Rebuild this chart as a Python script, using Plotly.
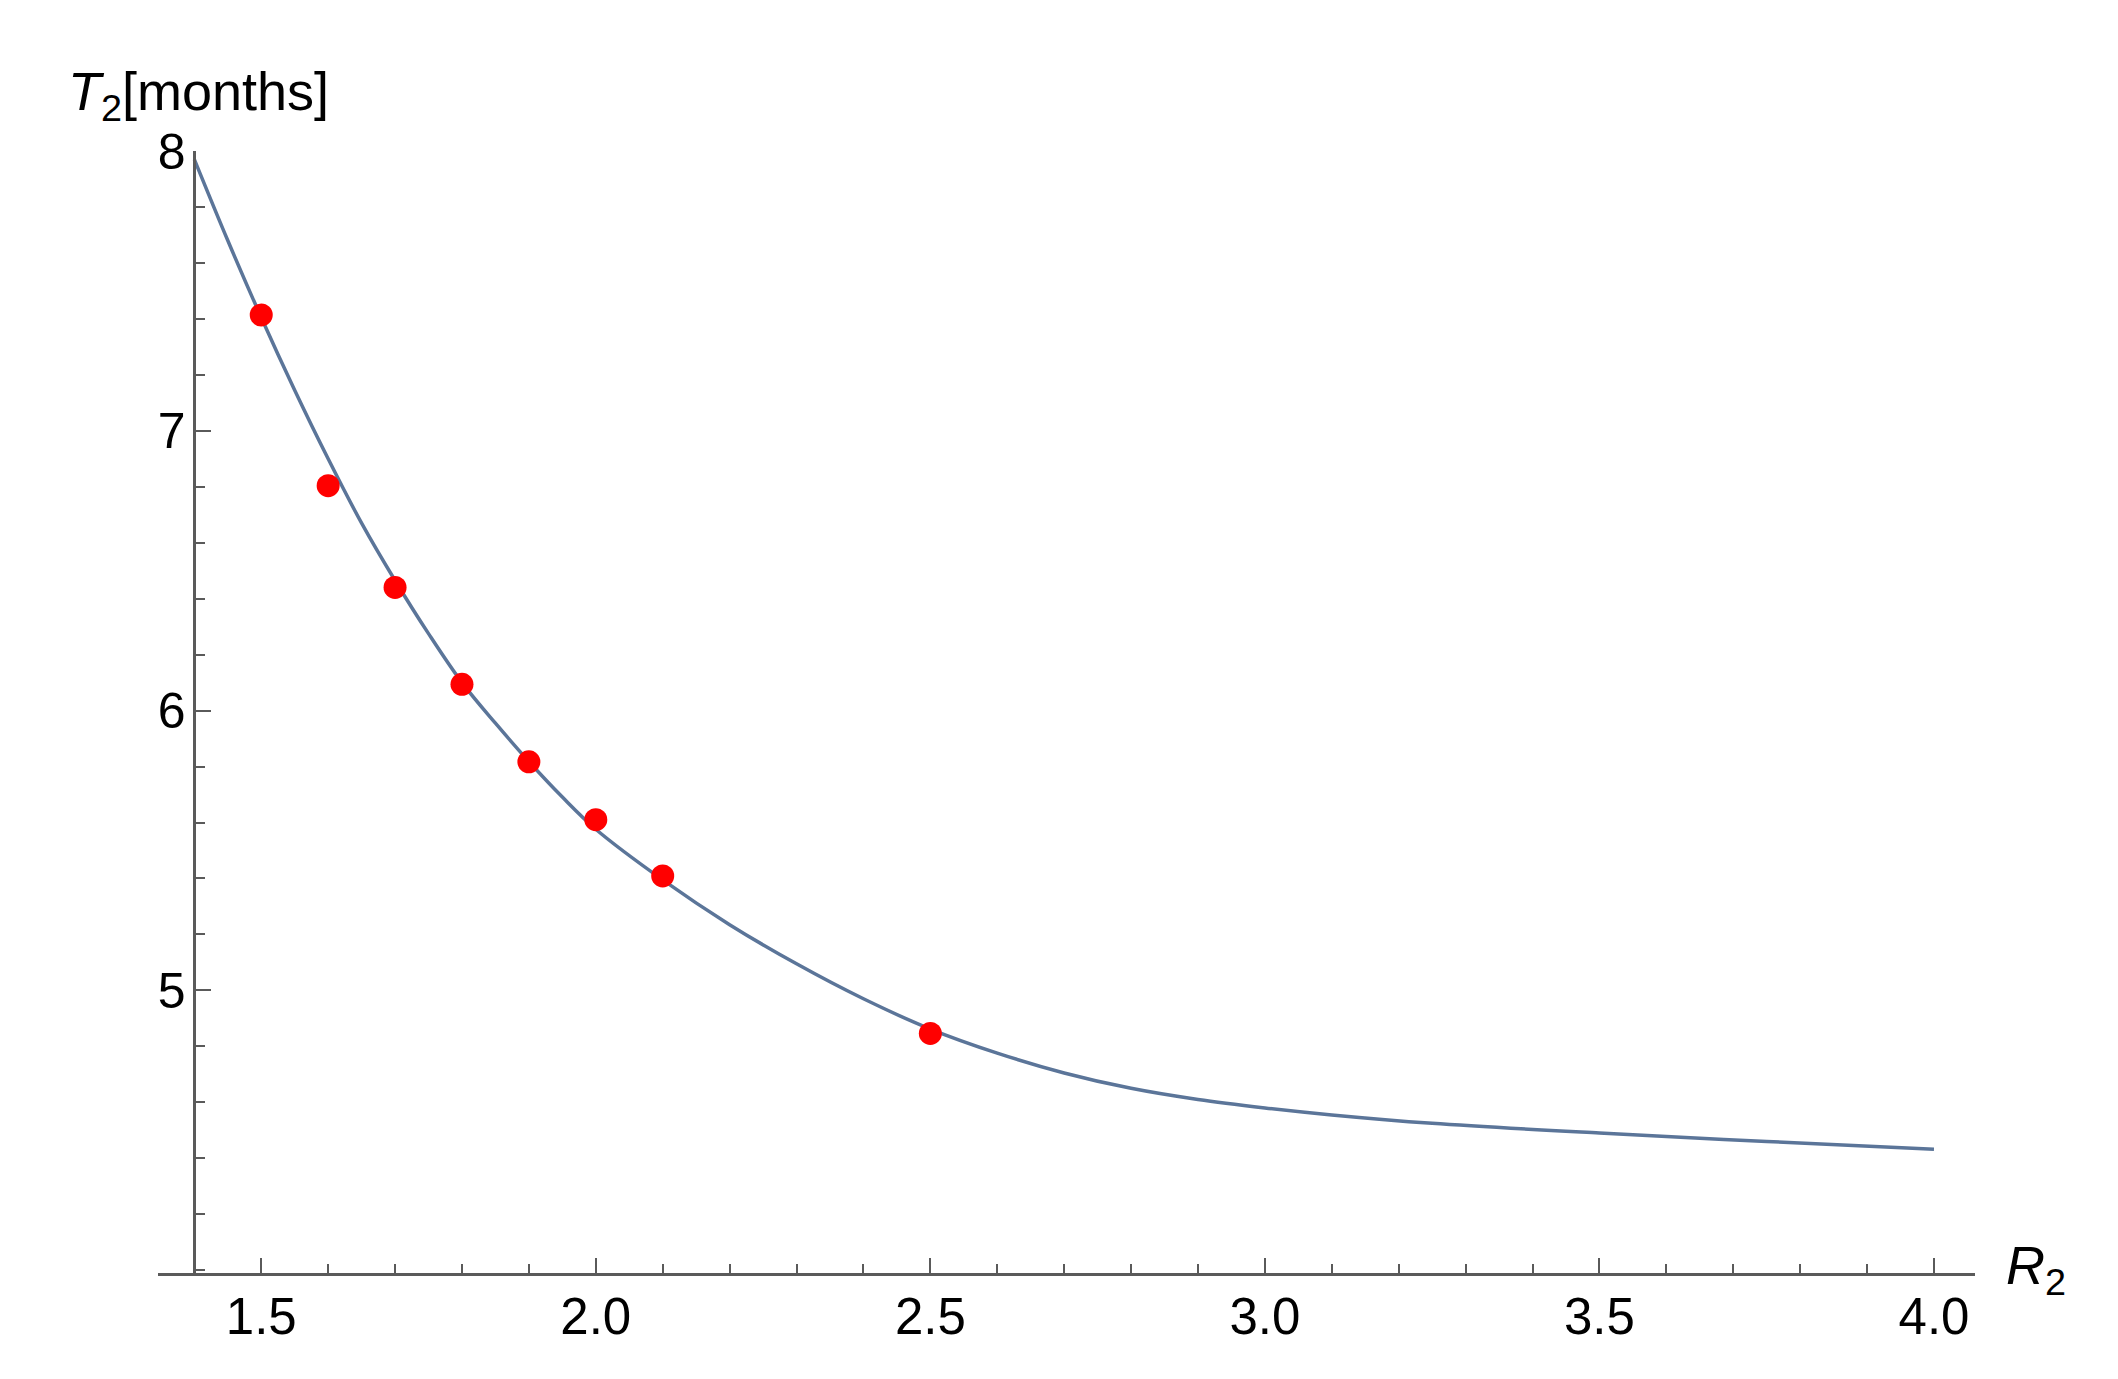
import plotly.graph_objects as go

# fitted curve T2(R2)
curve_r = [1.40, 1.45, 1.50, 1.55, 1.60, 1.65, 1.70, 1.75, 1.80, 1.85, 1.90, 1.95, 2.00,
           2.10, 2.20, 2.30, 2.40, 2.50, 2.60, 2.70, 2.80, 2.90, 3.00, 3.10, 3.25, 3.50,
           3.75, 4.00]
curve_t = [7.97, 7.68, 7.405, 7.145, 6.90, 6.67, 6.465, 6.275, 6.10, 5.955, 5.818, 5.691, 5.576,
           5.395, 5.235, 5.095, 4.970, 4.862, 4.776, 4.705, 4.650, 4.610, 4.580, 4.555, 4.525,
           4.490, 4.460, 4.432]

# measured points (red dots)
dots_r = [1.5, 1.6, 1.7, 1.8, 1.9, 2.0, 2.1, 2.5]
dots_t = [7.414, 6.804, 6.44, 6.094, 5.817, 5.61, 5.409, 4.846]

y_ticks = [5, 6, 7, 8]

axis_col = "#5a5a5a"
font_fam = "Arial, Liberation Sans, sans-serif"

x_lo, x_hi = 1.3457, 4.0613

line = go.Scatter(
    x=curve_r, y=curve_t,
    mode="lines",
    line=dict(color="#5b7599", width=3.5, shape="spline"),
    showlegend=False,
)
points = go.Scatter(
    x=dots_r, y=dots_t,
    mode="markers",
    marker=dict(color="#ff0000", size=23),
    showlegend=False,
)

# page body adds 8px on the left/top, so the figure is 8px smaller
layout = go.Layout(
    width=2110, height=1371,
    autosize=False,
    margin=dict(l=150, r=143, t=143, b=106),
    paper_bgcolor="white",
    plot_bgcolor="white",
    font=dict(family=font_fam, color="black"),
    xaxis=dict(
        range=[x_lo, x_hi],
        showgrid=False, zeroline=False,
        showline=True, linecolor=axis_col, linewidth=2.5,
        ticks="inside", ticklen=15, tickwidth=2, tickcolor=axis_col,
        tick0=1.5, dtick=0.5, tickformat=".1f",
        tickfont=dict(size=51, family=font_fam, color="black"),
        ticklabelstandoff=-3,
        minor=dict(tick0=1.4, dtick=0.1, ticks="inside", ticklen=9,
                   tickwidth=2, tickcolor=axis_col, showgrid=False),
    ),
    yaxis=dict(
        range=[3.99, 8.0],
        anchor="free",
        position=(1.4 - x_lo) / (x_hi - x_lo),
        showgrid=False, zeroline=False,
        showline=True, linecolor=axis_col, linewidth=2.5,
        ticks="inside", ticklen=15, tickwidth=2, tickcolor=axis_col,
        tickmode="array", tickvals=y_ticks, ticktext=[str(v) for v in y_ticks],
        tickfont=dict(size=50, family=font_fam, color="black"),
        ticklabelstandoff=-2,
        minor=dict(tick0=4.0, dtick=0.2, ticks="inside", ticklen=9,
                   tickwidth=2, tickcolor=axis_col, showgrid=False),
    ),
    annotations=[
        dict(text="<i>T</i><sub>2</sub>[months]", xref="paper", yref="paper",
             x=-0.0506, y=1, xanchor="left", yanchor="bottom", yshift=20,
             showarrow=False, font=dict(size=54, family=font_fam, color="black")),
        dict(text="<i>R</i><sub>2</sub>", xref="paper", yref="paper",
             x=1.0161, y=0, xanchor="left", yanchor="middle", yshift=4,
             showarrow=False, font=dict(size=54, family=font_fam, color="black")),
    ],
)

fig = go.Figure(data=[line, points], layout=layout)
fig.write_html("out.html")
